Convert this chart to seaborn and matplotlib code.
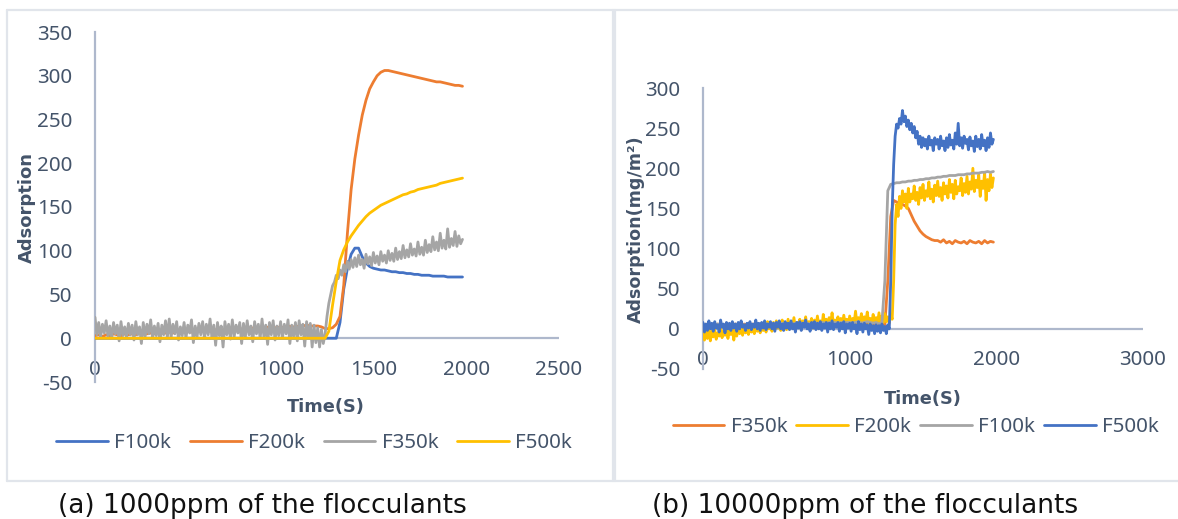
import numpy as np
import pandas as pd
import matplotlib
matplotlib.use("Agg")
import matplotlib.pyplot as plt
import seaborn as sns
from matplotlib.lines import Line2D

# ---------------- data ----------------
TIME_S = list(range(0, 2000, 20))     # 20 s grid, 0 .. 1980 s (smooth traces)
TIME_FINE = list(range(0, 1990, 10))  # 10 s grid, 0 .. 1980 s (noisy traces)

# (a) 1000 ppm
A_SERIES = ["F100k", "F200k", "F350k", "F500k"]
A_F100K = [
    0, 0, 0, 0, 0, 0, 0, 0, 0, 0,
    0, 0, 0, 0, 0, 0, 0, 0, 0, 0,
    0, 0, 0, 0, 0, 0, 0, 0, 0, 0,
    0, 0, 0, 0, 0, 0, 0, 0, 0, 0,
    0, 0, 0, 0, 0, 0, 0, 0, 0, 0,
    0, 0, 0, 0, 0, 0, 0, 0, 0, 0,
    0, 0, 0, 0, 0, 0, 18, 56, 80, 96,
    103, 103, 93, 86, 82, 80, 79, 78, 78, 77,
    76, 76, 75, 75, 74, 74, 73, 73, 72, 72,
    72, 71, 71, 71, 71, 70, 70, 70, 70, 70,
]
A_F200K = [
    3, 4, 2, 4, 3, 5, 4, 3, 5, 4,
    5, 4, 6, 5, 5, 6, 5, 7, 6, 6,
    7, 6, 8, 7, 7, 8, 7, 9, 8, 8,
    9, 8, 10, 9, 9, 10, 9, 11, 10, 10,
    11, 10, 12, 11, 11, 12, 12, 13, 12, 12,
    13, 12, 14, 13, 13, 14, 14, 15, 14, 14,
    14, 13, 11, 11, 12, 16, 25, 60, 120, 170,
    205, 232, 255, 272, 285, 293, 300, 304, 306, 306,
    305, 304, 303, 302, 301, 300, 299, 298, 297, 296,
    295, 294, 293, 293, 292, 291, 290, 289, 289, 288,
]
A_F350K = [  # 10 s grid
    24, 4, 18, 1, 16, 6, 20, 2, 14, 0, 18, 5, 15, -3, 19, 3, 13, 1, 17, 4,
    15, -2, 19, 4, 13, -6, 18, 2, 16, 5, 21, 0, 14, 3, 17, -4, 15, 4, 20, 1,
    22, 1, 16, 5, 19, -2, 13, 3, 18, 0, 15, 6, 21, -5, 14, 2, 17, 4, 19, 0,
    16, 4, 22, 0, 15, -8, 18, 3, 14, -10, 19, 4, 16, -1, 21, 2, 15, 6, 18, -6,
    17, 1, 20, 4, 14, -4, 19, 5, 16, 0, 22, 2, 15, -7, 18, 4, 20, -2, 14, 3,
    19, 0, 16, 5, 21, -6, 15, 2, 18, -3, 20, 4, 16, -9, 19, 1, 17, -10, 15, -5,
    12, -10, 10, -6, 5, 25, 40, 50, 60, 64, 72, 68, 78, 72, 84, 76, 88, 79, 90, 81,
    92, 82, 95, 84, 90, 80, 96, 85, 93, 83, 98, 86, 94, 84, 99, 88, 95, 86, 100, 89,
    97, 88, 103, 90, 99, 91, 106, 92, 101, 93, 108, 95, 102, 94, 110, 96, 104, 95, 112, 98,
    107, 99, 116, 101, 110, 100, 120, 103, 112, 102, 125, 104, 114, 106, 122, 105, 117, 108, 113,
]
A_F500K = [
    0, 0, 0, 0, 0, 0, 0, 0, 0, 0,
    0, 0, 0, 0, 0, 0, 0, 0, 0, 0,
    0, 0, 0, 0, 0, 0, 0, 0, 0, 0,
    0, 0, 0, 0, 0, 0, 0, 0, 0, 0,
    0, 0, 0, 0, 0, 0, 0, 0, 0, 0,
    0, 0, 0, 0, 0, 0, 0, 0, 0, 0,
    0, 0, 0, 8, 38, 65, 89, 101, 110, 117,
    123, 129, 134, 139, 143, 146, 149, 152, 154, 156,
    158, 160, 162, 164, 165, 167, 168, 170, 171, 172,
    173, 174, 175, 177, 178, 179, 180, 181, 182, 183,
]

# (b) 10000 ppm
B_SERIES = ["F350k", "F200k", "F100k", "F500k"]
B_F350K = [
    4, 5, 3, 5, 4, 6, 4, 5, 3, 5,
    4, 6, 5, 4, 6, 5, 4, 6, 5, 5,
    6, 5, 7, 5, 6, 7, 5, 6, 7, 6,
    6, 7, 5, 7, 6, 8, 6, 7, 6, 7,
    7, 6, 8, 7, 6, 8, 7, 6, 8, 7,
    7, 8, 6, 8, 7, 6, 8, 7, 6, 7,
    6, 7, 5, 60, 140, 160, 158, 156, 155, 153,
    150, 142, 134, 128, 122, 118, 115, 113, 111, 110,
    110, 108, 111, 107, 109, 106, 110, 108, 107, 109,
    106, 110, 108, 107, 109, 106, 110, 107, 109, 108,
]
B_F200K = [  # 10 s grid
    -4, -14, -2, -12, 0, -15, -3, -10, -1, -13, -5, -9, 2, -11, -3, -8, 0, -12, -2, -7,
    1, -14, -1, -9, 3, -6, 0, -8, 4, -5, 1, -7, 5, -4, 2, -6, 6, -3, 1, -5,
    7, -2, 3, -4, 9, 0, 4, -3, 8, -1, 10, 1, 5, -2, 11, 2, 6, -1, 12, 0,
    9, 2, 14, 1, 8, 3, 12, -1, 10, 4, 15, 2, 9, 5, 13, 1, 11, 3, 16, 4,
    10, 2, 18, 5, 12, 3, 14, 6, 20, 4, 11, 7, 15, 3, 13, 5, 17, 6, 12, 4,
    16, 5, 13, 7, 22, 6, 14, 8, 19, 5, 15, 9, 21, 7, 13, 6, 18, 8, 14, 7,
    20, 6, 16, 8, 19, 9, 15, 7, 18, 12, 60, 130, 155, 140, 165, 150, 172, 158, 168, 150,
    175, 158, 168, 162, 178, 160, 170, 155, 176, 163, 180, 160, 172, 165, 183, 162, 174, 158, 179, 166,
    184, 165, 176, 160, 182, 168, 178, 163, 186, 170, 180, 162, 185, 168, 177, 172, 188, 166, 181, 170,
    190, 168, 183, 174, 200, 171, 185, 176, 192, 165, 184, 175, 195, 160, 186, 172, 193, 176, 188,
]
B_F100K = [
    4, 6, 3, 5, 4, 6, 5, 3, 6, 4,
    5, 6, 4, 6, 5, 4, 6, 5, 5, 6,
    5, 7, 6, 5, 7, 6, 5, 7, 6, 6,
    7, 6, 8, 6, 7, 8, 6, 7, 8, 7,
    7, 8, 6, 8, 7, 8, 7, 8, 7, 8,
    8, 7, 8, 9, 7, 8, 9, 8, 7, 8,
    6, 8, 60, 172, 180, 181, 182, 182, 183, 183,
    184, 184, 185, 185, 186, 186, 187, 187, 188, 188,
    189, 189, 190, 190, 191, 191, 191, 192, 192, 192,
    193, 193, 194, 194, 194, 195, 195, 196, 195, 196,
]
B_F500K = [  # 10 s grid
    8, -4, 6, -2, 10, 0, 7, -3, 9, 1, 5, -4, 11, 2, 6, -5, 8, 0, 7, -2,
    9, 1, 6, -3, 8, 0, 10, 2, 5, -2, 7, 1, 9, -1, 6, 2, 11, 0, 7, -2,
    8, 1, 10, -1, 6, 2, 9, 0, 7, -3, 8, 2, 10, 0, 6, -2, 9, 1, 7, -1,
    10, 0, 6, -4, 8, 1, 9, -2, 7, 2, 11, 0, 6, -3, 8, 1, 9, -1, 7, 0,
    9, -2, 6, 1, 8, -4, 7, 0, 10, -1, 6, 2, 8, -3, 7, 0, 9, -5, 6, 1,
    7, -3, 8, 0, 5, -6, 9, -1, 6, -4, 7, 0, 5, -7, 6, -2, 4, -6, 5, -3,
    4, -5, 6, -2, 3, -6, 5, 0, 60, 150, 205, 240, 255, 250, 262, 255, 272, 258, 265, 252,
    260, 248, 256, 244, 252, 238, 246, 230, 240, 226, 238, 228, 236, 224, 240, 229, 235, 222, 238, 230,
    236, 224, 240, 228, 234, 222, 238, 226, 242, 229, 235, 224, 244, 230, 256, 228, 238, 225, 240, 231,
    236, 223, 239, 228, 234, 221, 240, 227, 236, 224, 242, 228, 235, 222, 238, 226, 244, 230, 236,
]

A_XTICKS = [0, 500, 1000, 1500, 2000, 2500]
A_YTICKS = [-50, 0, 50, 100, 150, 200, 250, 300, 350]
B_XTICKS = [0, 1000, 2000, 3000]
B_YTICKS = [-50, 0, 50, 100, 150, 200, 250, 300]

COLORS = {"F100k": "#4472C4", "F200k": "#ED7D31", "F350k": "#A5A5A5", "F500k": "#FFC000"}
COLORS_B = {"F350k": "#ED7D31", "F200k": "#FFC000", "F100k": "#A5A5A5", "F500k": "#4472C4"}

TEXT_C = "#44546A"
AXIS_C = "#AEB8CC"
BORDER_C = "#E1E5EB"

# ---------------- style ----------------
sns.set_theme(style="white")
plt.rcParams["font.family"] = ["Noto Sans", "DejaVu Sans"]

W, H = 1178, 519
fig = plt.figure(figsize=(W / 100, H / 100), dpi=100)


def long_df(items):
    rows = []
    for n, t, arr in items:
        rows.append(pd.DataFrame({"Time": t, "Adsorption": arr, "Series": n}))
    return pd.concat(rows, ignore_index=True)


df_a = long_df([("F100k", TIME_S, A_F100K), ("F200k", TIME_S, A_F200K),
                ("F350k", TIME_FINE, A_F350K), ("F500k", TIME_S, A_F500K)])
df_b = long_df([("F350k", TIME_S, B_F350K), ("F200k", TIME_FINE, B_F200K),
                ("F100k", TIME_S, B_F100K), ("F500k", TIME_FINE, B_F500K)])


def px_axes(x0, x1, y0, y1):
    return fig.add_axes([x0 / W, 1 - y1 / H, (x1 - x0) / W, (y1 - y0) / H])


ax_a = px_axes(95, 559, 32, 382)
ax_b = px_axes(703, 1143, 88, 369)


def style_axes(ax, df, order, palette, xticks, yticks, xlim, ylim, xpad, ypad):
    sns.lineplot(data=df, x="Time", y="Adsorption", hue="Series", hue_order=order,
                 palette=palette, estimator=None, sort=False, linewidth=2.0, ax=ax,
                 zorder=3)
    ax.axhline(0, color=AXIS_C, lw=1.6, zorder=1)
    ax.set_xlim(*xlim)
    ax.set_ylim(*ylim)
    ax.set_xticks(xticks)
    ax.set_yticks(yticks)
    ax.set_xticklabels([str(v) for v in xticks])
    ax.set_yticklabels([str(v) for v in yticks])
    for s in ["top", "right", "bottom"]:
        ax.spines[s].set_visible(False)
    ax.spines["left"].set_color(AXIS_C)
    ax.spines["left"].set_linewidth(1.6)
    ax.tick_params(axis="both", length=0, labelsize=14.8, colors=TEXT_C)
    ax.tick_params(axis="x", pad=xpad)
    ax.tick_params(axis="y", pad=ypad)
    for lab in ax.get_xticklabels():
        lab.set_va("center")
    ax.set_xlabel("")
    ax.set_ylabel("")
    ax.grid(False)
    ax.set_facecolor("none")


style_axes(ax_a, df_a, A_SERIES, COLORS, A_XTICKS, A_YTICKS, (0, 2500), (-50, 350), -8.6, 16.5)
style_axes(ax_b, df_b, B_SERIES, COLORS_B, B_XTICKS, B_YTICKS, (0, 3000), (-50, 300), -6.5, 16.5)

sns.move_legend(ax_a, "center", bbox_to_anchor=(314 / W, 1 - 443 / H),
                bbox_transform=fig.transFigure, ncol=4, title=None, frameon=False,
                fontsize=14.8, labelcolor=TEXT_C, handlelength=2.52,
                handletextpad=0.3, columnspacing=0.92, borderpad=0, borderaxespad=0)
sns.move_legend(ax_b, "center", bbox_to_anchor=(916 / W, 1 - 427 / H),
                bbox_transform=fig.transFigure, ncol=4, title=None, frameon=False,
                fontsize=14.8, labelcolor=TEXT_C, handlelength=2.52,
                handletextpad=0.3, columnspacing=0.44, borderpad=0, borderaxespad=0)

# axis titles (placed as in the original)
BOLD = dict(family="DejaVu Sans", fontweight="bold", color=TEXT_C)
fig.text(27 / W, 1 - 207 / H, "Adsorption", rotation=90, ha="center", va="center",
         fontsize=13, **BOLD)
fig.text(326 / W, 1 - 407 / H, "Time(S)", ha="center", va="center",
         fontsize=12.8, **BOLD)
fig.text(636 / W, 1 - 229 / H, "Adsorption(mg/m\u00b2)", rotation=90, ha="center",
         va="center", fontsize=12.6, **BOLD)
fig.text(923 / W, 1 - 399 / H, "Time(S)", ha="center", va="center",
         fontsize=12.8, **BOLD)

# panel borders
for (xs, ys) in [((7, 7), (10, 481)), ((7, W), (10, 10)), ((7, W), (481, 481)),
                 ((613, 613), (10, 481)), ((615, 615), (10, 481))]:
    fig.add_artist(Line2D([x / W for x in xs], [1 - y / H for y in ys],
                          transform=fig.transFigure, color=BORDER_C, lw=1.6))

# captions
fig.text(262 / W, 1 - 506 / H, "(a) 1000ppm of the flocculants", ha="center",
         va="center", fontsize=19, family="DejaVu Sans", color="#111111")
fig.text(865 / W, 1 - 506 / H, "(b) 10000ppm of the flocculants", ha="center",
         va="center", fontsize=19, family="DejaVu Sans", color="#111111")

fig.savefig("out.png", dpi=100, facecolor="white")
